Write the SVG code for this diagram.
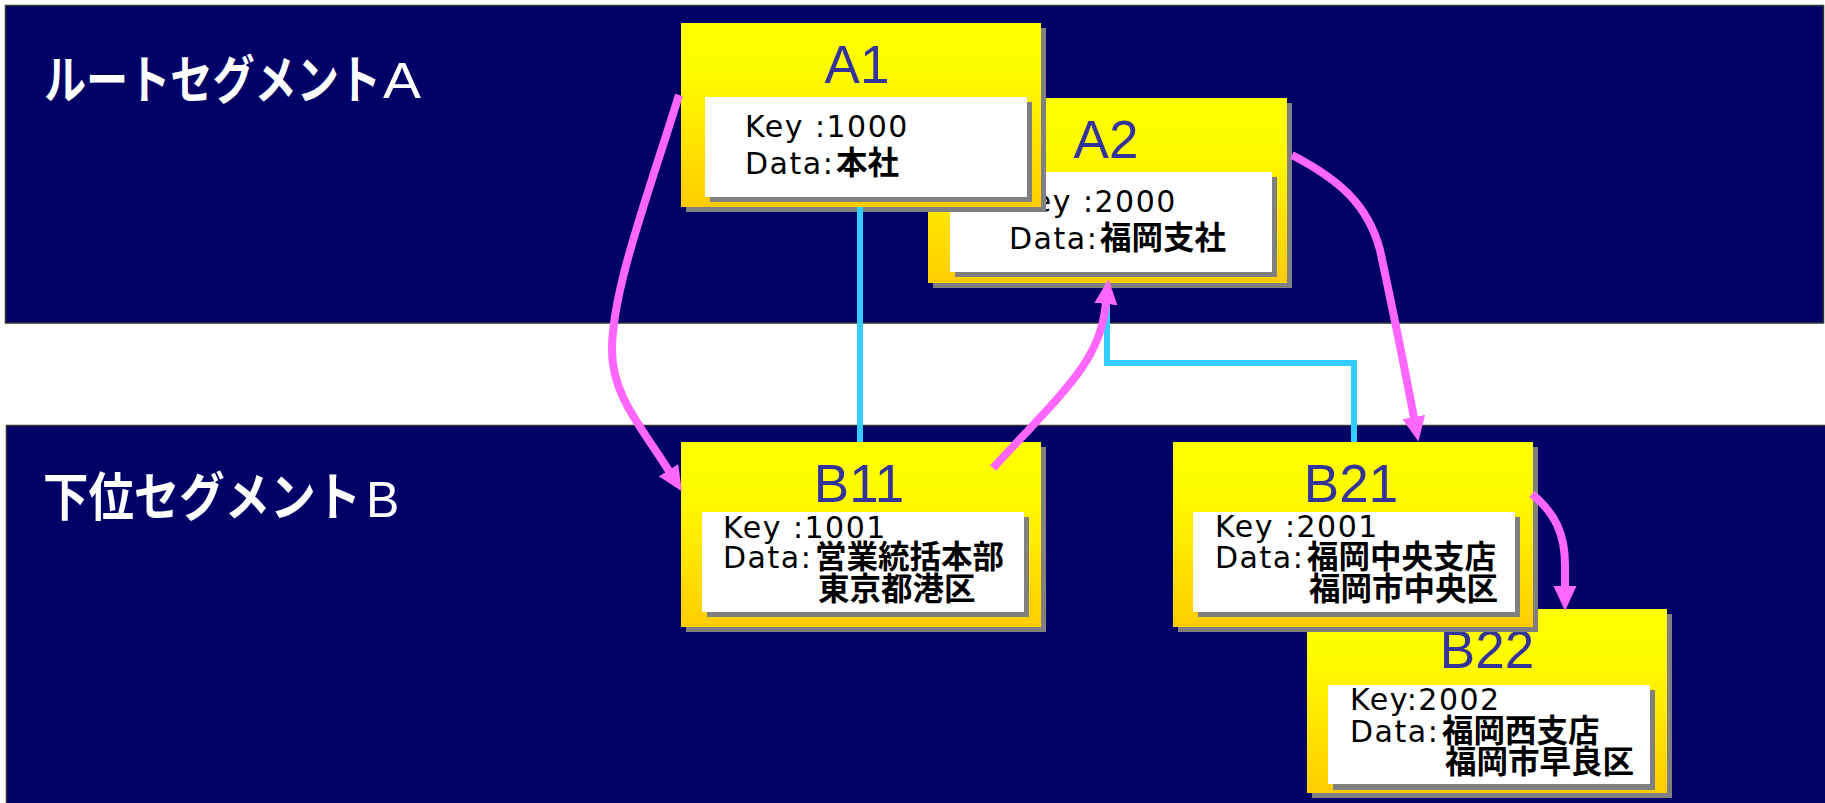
<svg xmlns="http://www.w3.org/2000/svg" width="1825" height="803" viewBox="0 0 1825 803">
<defs>
<linearGradient id="yg" x1="0" y1="0" x2="0" y2="1">
<stop offset="0" stop-color="#FFFF00"/>
<stop offset="0.3" stop-color="#FFFA00"/>
<stop offset="1" stop-color="#FFCC00"/>
</linearGradient>
<marker id="ah" markerUnits="userSpaceOnUse" markerWidth="26" markerHeight="24" viewBox="0 0 26 24" refX="1" refY="11.5" orient="auto">
<path d="M0,0 L25,11.5 L0,23 z" fill="#FF66FF"/>
</marker>
<style>
.panel{fill:#000066;stroke:#333333;stroke-width:1.5}
.shadow{fill:#808080}
.ybox{fill:url(#yg)}
.wbox{fill:#FFFFFF}
.lbl{font-family:"Liberation Sans",Arial,sans-serif;font-size:53px;fill:#333399;text-anchor:middle}
.txt{font-family:"DejaVu Sans","Liberation Sans",sans-serif;font-size:30px;letter-spacing:1.5px;fill:#000000}
.cj{font-family:"Noto Sans CJK JP",sans-serif;font-weight:bold;font-size:31.5px;letter-spacing:0px}
.title{font-family:"Noto Sans CJK JP",sans-serif;font-weight:bold;font-size:52px;fill:#FFFFFF}
.tlat{font-family:"Liberation Sans",Arial,sans-serif;font-size:50px;fill:#FFFFFF}
.mag{fill:none;stroke:#FF66FF;stroke-width:8;marker-end:url(#ah)}
.cyan{fill:none;stroke:#33CCFF;stroke-width:6}
</style>
</defs>
<rect x="0" y="0" width="1825" height="803" fill="#FFFFFF"/>
<g id="panelA">
<rect class="panel" x="5.5" y="5.5" width="1818" height="317.5"/>
<text class="title" x="44" y="99" textLength="337" lengthAdjust="spacingAndGlyphs">ルートセグメント</text>
<text class="tlat" x="383" y="98" textLength="38" lengthAdjust="spacingAndGlyphs">A</text>
</g>
<g id="panelB">
<rect class="panel" x="6.5" y="425.5" width="1822" height="385"/>
<text class="title" x="43" y="516" textLength="318" lengthAdjust="spacingAndGlyphs">下位セグメント</text>
<text class="tlat" x="366" y="517">B</text>
</g>
<g id="A2">
<rect class="shadow" x="933" y="103" width="359" height="185"/>
<rect class="ybox" x="928" y="98" width="359" height="185"/>
<text class="lbl" x="1106" y="158">A2</text>
<rect class="shadow" x="955" y="177" width="322" height="100"/>
<rect class="wbox" x="950" y="172" width="322" height="100"/>
<text class="txt" x="1013" y="212">Key :2000</text>
<text class="txt" x="1009" y="249">Data:<tspan class="cj" x="1100">福岡支社</tspan></text>
</g>
<g id="A1">
<rect class="shadow" x="686" y="28" width="360" height="184"/>
<rect class="ybox" x="681" y="23" width="360" height="184"/>
<text class="lbl" x="857" y="83">A1</text>
<rect class="shadow" x="710" y="102" width="322" height="100"/>
<rect class="wbox" x="705" y="97" width="322" height="100"/>
<text class="txt" x="745" y="137">Key :1000</text>
<text class="txt" x="745" y="174">Data:<tspan class="cj" x="836">本社</tspan></text>
</g>
<g id="B22">
<rect class="shadow" x="1312" y="614" width="360" height="184"/>
<rect class="ybox" x="1307" y="609" width="360" height="184"/>
<text class="lbl" x="1487" y="668">B22</text>
<rect class="shadow" x="1333" y="690" width="322" height="100"/>
<rect class="wbox" x="1328" y="685" width="322" height="99"/>
<text class="txt" x="1350" y="710">Key:2002</text>
<text class="txt" x="1350" y="742">Data:<tspan class="cj" x="1442">福岡西支店</tspan></text>
<text class="txt" x="1445" y="773"><tspan class="cj">福岡市早良区</tspan></text>
</g>
<g id="B21">
<rect class="shadow" x="1178" y="447" width="360" height="185"/>
<rect class="ybox" x="1173" y="442" width="360" height="185"/>
<text class="lbl" x="1351" y="502">B21</text>
<rect class="shadow" x="1198" y="517" width="322" height="100"/>
<rect class="wbox" x="1193" y="512" width="322" height="100"/>
<text class="txt" x="1215" y="537">Key :2001</text>
<text class="txt" x="1215" y="568">Data:<tspan class="cj" x="1307">福岡中央支店</tspan></text>
<text class="txt" x="1309" y="600"><tspan class="cj">福岡市中央区</tspan></text>
</g>
<g id="B11">
<rect class="shadow" x="686" y="447" width="360" height="185"/>
<rect class="ybox" x="681" y="442" width="360" height="185"/>
<text class="lbl" x="859" y="502">B11</text>
<rect class="shadow" x="707" y="517" width="322" height="100"/>
<rect class="wbox" x="702" y="512" width="322" height="100"/>
<text class="txt" x="723" y="538">Key :1001</text>
<text class="txt" x="723" y="568">Data:<tspan class="cj" x="815">営業統括本部</tspan></text>
<text class="txt" x="818" y="600"><tspan class="cj">東京都港区</tspan></text>
</g>
<g id="connectors">
<path class="cyan" d="M860,207 L860,442"/>
<path class="cyan" d="M1107,285 L1107,363 L1354,363 L1354,442"/>
<path class="mag" d="M679,95 C648,195 612,290 612,350 C612,395 640,425 669,471"/>
<path class="mag" d="M993,468 C1070,385 1100,360 1106,303"/>
<path class="mag" d="M1292,155 C1340,180 1368,205 1380,250 C1395,320 1405,370 1414,418"/>
<path class="mag" d="M1532,494 C1556,514 1565,535 1565,565 L1565,587"/>
</g>
</svg>
